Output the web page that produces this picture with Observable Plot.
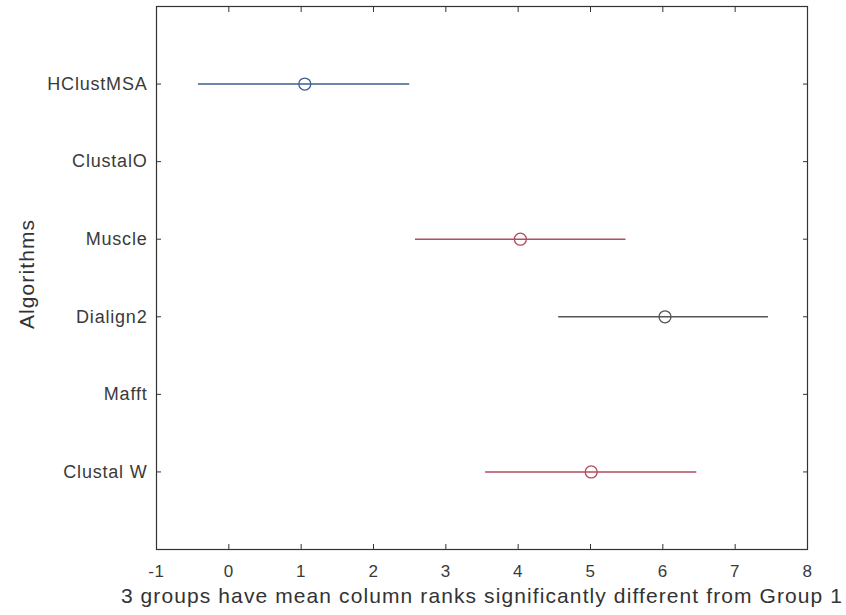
<!DOCTYPE html>
<html>
<head>
<meta charset="utf-8">
<script src="https://cdn.jsdelivr.net/npm/d3@7"></script>
<script src="https://cdn.jsdelivr.net/npm/@observablehq/plot@0.6"></script>
<style>
  html, body { margin: 0; padding: 0; background: #fff; }
  #chart svg { display: block; }
  #chart svg text { letter-spacing: 0.8px; }
  #chart svg .title text { letter-spacing: 1.1px; }
</style>
</head>
<body>
<div id="chart"></div>
<script>
// Groups (top to bottom), positions 1..6
const algorithms = ["HClustMSA", "ClustalO", "Muscle", "Dialign2", "Mafft", "Clustal W"];
// Estimated mean column ranks (null = not drawn)
const means  = [1.05, null, 4.03, 6.03, null, 5.01];
const lowers = [-0.42, null, 2.58, 4.56, null, 3.55];
const uppers = [2.50, null, 5.49, 7.46, null, 6.47];
// Status of each group: selected, significant, neutral
const status = ["selected", null, "significant", "neutral", null, "significant"];
const xTicks = [-1, 0, 1, 2, 3, 4, 5, 6, 7, 8];
const xTitle = "3 groups have mean column ranks significantly different from Group 1";
const yTitle = "Algorithms";

const colorOf = {selected: "#3d5e90", significant: "#b24c5e", neutral: "#555555"};

const rows = algorithms.map((name, i) => ({
  name, pos: i + 1, mean: means[i], lo: lowers[i], hi: uppers[i], status: status[i]
})).filter(d => d.mean != null);

const font = "'Liberation Sans', Arial, Helvetica, sans-serif";

const chart = Plot.plot({
  width: 846,
  height: 615,
  marginLeft: 156,
  marginRight: 39,
  marginTop: 6,
  marginBottom: 66,
  style: {fontFamily: font, background: "#fff", color: "#3a3a3a"},
  x: {domain: [-1, 8], label: null},
  y: {domain: [0, 7], reverse: true, label: null},
  marks: [
    Plot.frame({stroke: "#333", strokeWidth: 1.2}),
    Plot.axisX({anchor: "bottom", ticks: xTicks, tickFormat: d => String(d), tickSize: -5, tickPadding: 20, fontSize: 17, label: null, stroke: "#333"}),
    Plot.axisX({anchor: "top", ticks: xTicks, tickSize: -5, tickFormat: () => "", label: null, stroke: "#333"}),
    Plot.axisY({anchor: "left", ticks: [1, 2, 3, 4, 5, 6], tickFormat: d => algorithms[d - 1], tickSize: -5, tickPadding: 14, fontSize: 18, label: null, stroke: "#333"}),
    Plot.axisY({anchor: "right", ticks: [1, 2, 3, 4, 5, 6], tickFormat: () => "", tickSize: -5, label: null, stroke: "#333"}),
    Plot.ruleY(rows, {y: "pos", x1: "lo", x2: "hi", stroke: d => colorOf[d.status], strokeWidth: 1.5}),
    Plot.dot(rows, {x: "mean", y: "pos", r: 6, stroke: d => colorOf[d.status], fill: "none", strokeWidth: 1.3}),
    Plot.text([xTitle], {frameAnchor: "bottom", dy: 47, dx: 0, fontSize: 21, fill: "#333", textAnchor: "middle", lineAnchor: "middle", className: "title"}),
    Plot.text([yTitle], {frameAnchor: "left", dx: -129, dy: -4, rotate: -90, fontSize: 21, fill: "#333", textAnchor: "middle", lineAnchor: "middle", className: "title"})
  ]
});

document.getElementById("chart").appendChild(chart);
</script>
</body>
</html>
